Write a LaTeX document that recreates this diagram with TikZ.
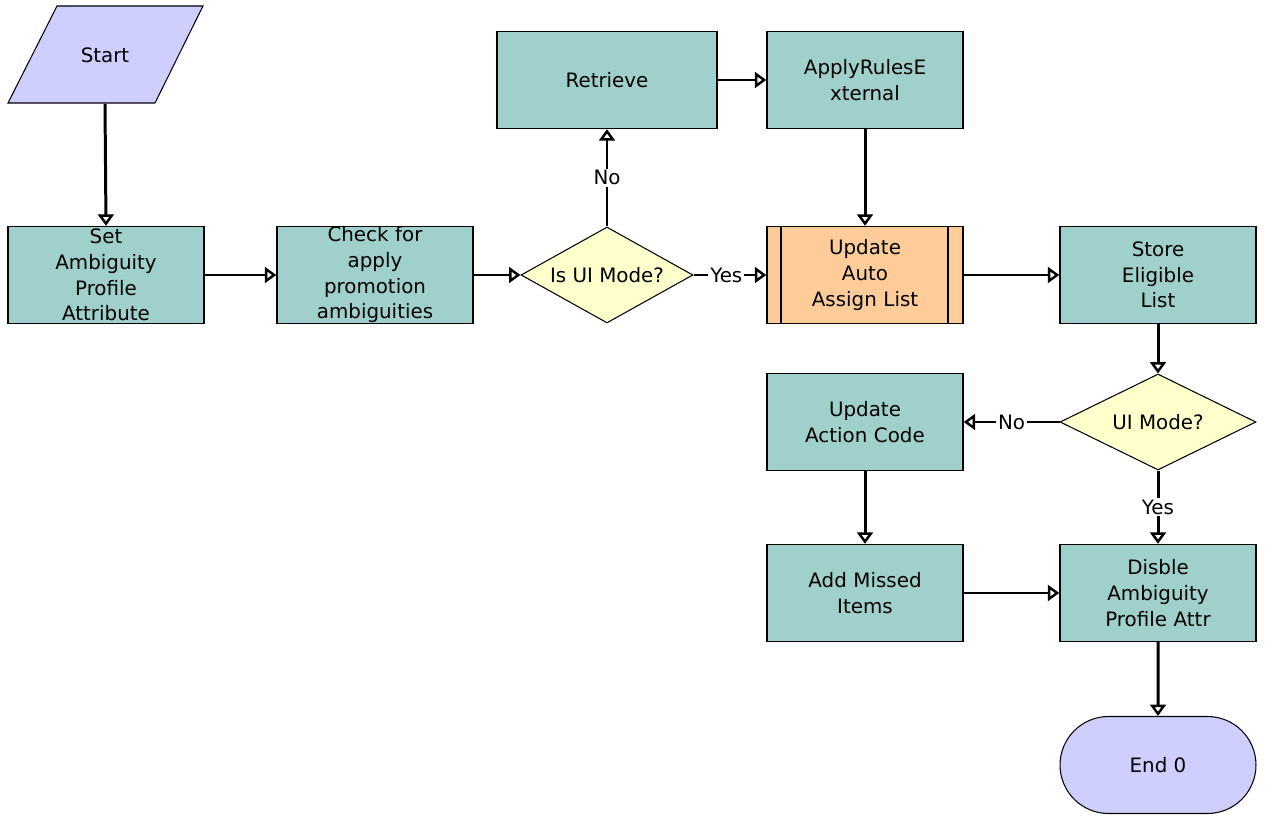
\documentclass[tikz,border=0pt]{standalone}
\usepackage{fontspec}
\setmainfont{DejaVu Sans}
\usetikzlibrary{arrows.meta,shapes.geometric,shapes.misc}
\definecolor{teal1}{RGB}{159,208,204}
\definecolor{orng}{RGB}{253,204,153}
\definecolor{lav}{RGB}{206,206,255}
\definecolor{ylw}{RGB}{255,255,204}
\begin{document}
\begin{tikzpicture}[x=0.02cm,y=-0.02cm,
  every node/.style={font=\fontsize{11.3}{14.6}\selectfont, align=center},
  task/.style={draw, line width=0.8pt, fill=teal1, minimum width=3.92cm, minimum height=1.94cm, inner sep=0pt, text width=3.6cm},
  sub/.style={task, fill=orng},
  dec/.style={draw, line width=0.6pt, fill=ylw, diamond, aspect=1.8, inner sep=0pt, minimum width=3.44cm, minimum height=1.92cm},
  conn/.style={line width=1.7pt, -{Triangle[open, length=6.5pt, width=9pt, line width=1.4pt]}},
  lbl/.style={fill=white, inner sep=1pt}
]
\useasboundingbox (0,0) rectangle (1265,831);
% Start parallelogram
\filldraw[fill=lav, line width=0.6pt] (57,6) -- (203,6) -- (155,103) -- (8,103) -- cycle;
\node[minimum width=1.9cm, minimum height=1.94cm, inner sep=0pt] (start) at (105,55) {Start};
% tasks
\node[task] (set) at (106,275) {Set\\Ambiguity\\Profile\\Attribute};
\node[task] (check) at (375,275) {Check for\\apply\\promotion\\ambiguities};
\node[dec] (isui) at (607,275) {Is UI Mode?};
\node[task, minimum width=4.4cm] (retr) at (607,80) {Retrieve};
\node[task] (apply) at (865,80) {ApplyRulesE\\xternal};
\node[sub] (upd) at (865,275) {Update\\Auto\\Assign List};
\draw[line width=0.8pt] (781,226) -- (781,324) (948,226) -- (948,324);
\node[task] (store) at (1158,275) {Store\\Eligible\\List};
\node[dec, minimum width=3.92cm] (uim) at (1158,422) {UI Mode?};
\node[task] (uac) at (865,422) {Update\\Action Code};
\node[task] (add) at (865,593) {Add Missed\\Items};
\node[task] (dis) at (1158,593) {Disble\\Ambiguity\\Profile Attr};
\node[draw, line width=0.6pt, fill=lav, rounded rectangle, minimum width=3.92cm, minimum height=1.94cm, inner sep=0pt] (end) at (1158,765) {End 0};
% connectors
\draw[conn] (start.south) -- (set.north);
\draw[conn] (set) -- (check);
\draw[conn] (check) -- (isui);
\draw[conn] (isui.north) -- node[lbl, pos=0.5] {No} (retr.south);
\draw[conn] (isui.east) -- node[lbl, pos=0.45] {Yes} (upd.west);
\draw[conn] (retr) -- (apply);
\draw[conn] (apply) -- (upd);
\draw[conn] (upd) -- (store);
\draw[conn] (store) -- (uim);
\draw[conn] (uim.west) -- node[lbl, pos=0.5] {No} (uac.east);
\draw[conn] (uim.south) -- node[lbl, pos=0.5] {Yes} (dis.north);
\draw[conn] (uac) -- (add);
\draw[conn] (add) -- (dis);
\draw[conn] (dis) -- (end);
\end{tikzpicture}
\end{document}
